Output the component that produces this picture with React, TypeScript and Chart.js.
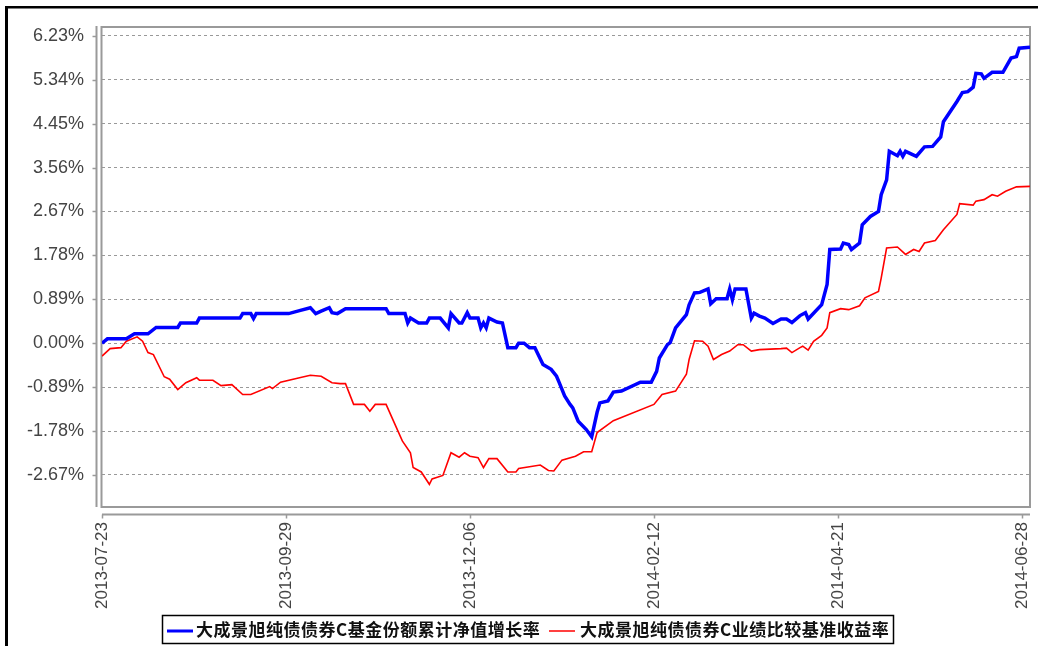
import React, { useEffect, useRef } from 'react';
import { Chart, registerables } from 'chart.js';

Chart.register(...registerables);

// x values are day offsets from 2013-07-23
const xTickDays = [0, 68, 136, 204, 272, 340];
const xTickLabels = ['2013-07-23', '2013-09-29', '2013-12-06', '2014-02-12', '2014-04-21', '2014-06-28'];
const yTickValues = [-2.67, -1.78, -0.89, 0, 0.89, 1.78, 2.67, 3.56, 4.45, 5.34, 6.23];
const xMin = 0;
const xMax = 343;
const yMin = -3.32;
const yMax = 6.43;

const seriesNames = ['大成景旭纯债债券C基金份额累计净值增长率', '大成景旭纯债债券C业绩比较基准收益率'];

const fundDays = [
  0, 2, 9, 12, 17, 20, 28, 29, 35, 36, 51, 52, 55, 56, 57, 69, 73, 77, 79, 81, 84, 85, 87, 90,
  105, 106, 112, 113, 114, 117, 120, 121, 125, 128, 129, 132, 133, 135, 136, 139, 140, 141, 142,
  143, 146, 148, 150, 153, 154, 156, 158, 160, 163, 166, 168, 169, 171, 173, 174, 176, 179, 181,
  183, 184, 187, 189, 192, 199, 203, 205, 206, 209, 210, 212, 216, 217, 219, 221, 224, 225, 227,
  231, 232, 233, 234, 238, 240, 241, 243, 245, 248, 251, 253, 255, 258, 260, 261, 266, 268, 269,
  273, 274, 276, 277, 280, 281, 284, 287, 288, 290, 291, 294, 295, 296, 297, 301, 304, 307, 310,
  311, 316, 318, 320, 322, 323, 325, 326, 329, 333, 336, 338, 339, 343,
];
const fundValues = [
  0.0, 0.09, 0.09, 0.19, 0.19, 0.32, 0.32, 0.41, 0.41, 0.51, 0.51, 0.6, 0.6, 0.5, 0.6, 0.6, 0.66,
  0.72, 0.6, 0.65, 0.72, 0.62, 0.6, 0.7,
  0.7, 0.6, 0.6, 0.41, 0.51, 0.41, 0.41, 0.51, 0.51, 0.31, 0.6, 0.41, 0.41, 0.62, 0.51, 0.51, 0.31,
  0.41, 0.31,
  0.51, 0.43, 0.41, -0.09, -0.09, 0.0, 0.0, -0.09, -0.09, -0.43, -0.53, -0.67, -0.8, -1.07, -1.24,
  -1.31, -1.58, -1.75, -1.9,
  -1.4, -1.21, -1.17, -0.99, -0.97, -0.79, -0.79, -0.57, -0.3, -0.03, 0.01, 0.31, 0.58, 0.78, 1.02,
  1.03, 1.1, 0.8, 0.9,
  0.9, 1.1, 0.88, 1.1, 1.1, 0.51, 0.61, 0.55, 0.51, 0.4, 0.49, 0.49, 0.42, 0.56, 0.62, 0.49, 0.78,
  1.19, 1.9,
  1.91, 2.03, 2.0, 1.9, 2.03, 2.4, 2.57, 2.67, 3.01, 3.31, 3.89, 3.8, 3.89, 3.79, 3.89, 3.79, 3.98,
  3.99, 4.18,
  4.49, 4.9, 5.08, 5.1, 5.19, 5.47, 5.46, 5.37, 5.49, 5.49, 5.78, 5.81, 5.98, 6.0,
];

const benchDays = [
  0, 3, 7, 9, 13, 15, 17, 19, 23, 25, 28, 31, 35, 36, 41, 44, 48, 52, 55, 62, 63, 66, 73, 77, 81,
  85, 88, 90, 93, 97, 99, 101, 105, 108, 111, 114, 115, 118, 121, 122, 126, 129, 132, 134, 136,
  139, 141, 143, 146, 150, 153, 154, 162, 165, 167, 170, 175, 178, 181, 183, 189, 204, 207, 212,
  216, 217, 219, 222, 224, 226, 229, 232, 235, 237, 240, 243, 251, 253, 255, 258, 259, 261, 263,
  266, 268, 269, 273, 276, 280, 282, 287, 288, 290, 294, 297, 300, 302, 304, 308, 311, 316, 317,
  322, 323, 326, 329, 331, 334, 338, 343,
];
const benchValues = [
  -0.26, -0.11, -0.09, 0.04, 0.13, 0.04, -0.19, -0.23, -0.68, -0.73, -0.94, -0.8, -0.7, -0.75,
  -0.75, -0.86, -0.84, -1.04, -1.04, -0.88, -0.92, -0.79, -0.7, -0.65, -0.67,
  -0.8, -0.82, -0.82, -1.24, -1.24, -1.38, -1.24, -1.24, -1.61, -1.98, -2.22, -2.52, -2.61, -2.86,
  -2.75, -2.68, -2.22, -2.31, -2.22, -2.29,
  -2.32, -2.52, -2.34, -2.34, -2.61, -2.61, -2.54, -2.47, -2.58, -2.59, -2.37, -2.29, -2.2, -2.2,
  -1.81, -1.57, -1.24, -1.04, -0.97,
  -0.63, -0.33, 0.05, 0.04, -0.06, -0.33, -0.23, -0.16, -0.03, -0.03, -0.16, -0.13, -0.11, -0.1,
  -0.19, -0.09, -0.06, -0.14, 0.04,
  0.16, 0.31, 0.62, 0.7, 0.68, 0.76, 0.92, 1.05, 1.32, 1.93, 1.95, 1.8, 1.9, 1.86, 2.03, 2.08, 2.3,
  2.61, 2.83,
  2.8, 2.88, 2.91, 3.01, 2.98, 3.08, 3.17, 3.18,
];

const seriesColors = ['#0000ff', '#ff0000'];

const decorPlugin = {
  id: 'decor',
  beforeDraw(chart: any) {
    const { ctx, width, height } = chart;
    ctx.save();
    ctx.fillStyle = '#ffffff';
    ctx.fillRect(0, 0, width, height);
    ctx.fillStyle = '#000000';
    ctx.fillRect(5, 6, width - 5, 2.5);
    ctx.fillRect(5, 6, 3, height - 6);
    ctx.restore();
  },
  beforeDatasetsDraw(chart: any) {
    const { ctx, chartArea, scales } = chart;
    const { left, top, right, bottom } = chartArea;
    ctx.save();
    ctx.strokeStyle = '#9a9a9a';
    ctx.lineWidth = 2;
    ctx.strokeRect(left - 0.5, top + 1, right - left + 0.5, bottom - top - 1);
    // y axis line + ticks
    const ax = left - 5.5;
    ctx.beginPath();
    ctx.moveTo(ax, top);
    ctx.lineTo(ax, bottom);
    ctx.stroke();
    ctx.lineWidth = 1.5;
    scales.y.ticks.forEach((t: any) => {
      const py = Math.round(scales.y.getPixelForValue(t.value)) + 0.5;
      ctx.beginPath();
      ctx.moveTo(ax - 4, py);
      ctx.lineTo(ax, py);
      ctx.stroke();
    });
    // x axis line + ticks
    const ay = bottom + 7.5;
    ctx.lineWidth = 2;
    ctx.beginPath();
    ctx.moveTo(left, ay);
    ctx.lineTo(right, ay);
    ctx.stroke();
    ctx.lineWidth = 1.5;
    scales.x.ticks.forEach((t: any) => {
      const px = Math.round(scales.x.getPixelForValue(t.value)) + 0.5;
      ctx.beginPath();
      ctx.moveTo(px, ay);
      ctx.lineTo(px, ay + 4);
      ctx.stroke();
    });
    ctx.restore();
  },
  afterDraw(chart: any) {
    const { ctx } = chart;
    ctx.save();
    // legend box
    ctx.strokeStyle = '#000000';
    ctx.lineWidth = 1.5;
    ctx.strokeRect(162.5, 615.5, 731, 28);
    ctx.font = 'bold 17px "Noto Sans CJK SC", sans-serif';
    ctx.textBaseline = 'middle';
    ctx.fillStyle = '#111111';
    try {
      (ctx as any).letterSpacing = '0.5px';
    } catch (e) {
      /* ignore */
    }
    const entries = [
      { x0: 167, x1: 193, tx: 196, w: 3 },
      { x0: 549, x1: 575, tx: 580, w: 1.5 },
    ];
    entries.forEach((e, i) => {
      ctx.strokeStyle = seriesColors[i];
      ctx.lineWidth = e.w;
      ctx.beginPath();
      ctx.moveTo(e.x0, 631);
      ctx.lineTo(e.x1, 631);
      ctx.stroke();
      ctx.fillText(seriesNames[i], e.tx, 630);
    });
    ctx.restore();
  },
};

export default function App() {
  const ref = useRef<HTMLCanvasElement>(null);
  useEffect(() => {
    const canvas = ref.current;
    if (!canvas) return;
    const chart = new Chart(canvas, {
      type: 'line',
      data: {
        datasets: [
          {
            label: seriesNames[0],
            data: fundDays.map((d, i) => ({ x: d, y: fundValues[i] })),
            borderColor: seriesColors[0],
            borderWidth: 3.5,
            pointRadius: 0,
            tension: 0,
            fill: false,
          },
          {
            label: seriesNames[1],
            data: benchDays.map((d, i) => ({ x: d, y: benchValues[i] })),
            borderColor: seriesColors[1],
            borderWidth: 1.6,
            pointRadius: 0,
            tension: 0,
            fill: false,
          },
        ],
      },
      options: {
        animation: false,
        responsive: false,
        layout: { padding: { left: 8, right: 8, top: 26, bottom: 0 } },
        plugins: { legend: { display: false }, tooltip: { enabled: false } },
        scales: {
          x: {
            type: 'linear',
            min: xMin,
            max: xMax,
            afterBuildTicks: (s: any) => {
              s.ticks = xTickDays.map((v) => ({ value: v }));
            },
            afterFit: (s: any) => {
              s.height = 139;
              s.paddingLeft = 0;
              s.paddingRight = 0;
            },
            grid: { display: false, drawTicks: false },
            border: { display: false },
            ticks: {
              autoSkip: false,
              maxRotation: 90,
              minRotation: 90,
              padding: 15,
              color: '#444444',
              font: { family: '"Liberation Sans", Arial, sans-serif', size: 17 },
              callback: (v: any) => {
                const i = xTickDays.indexOf(Number(v));
                return i >= 0 ? xTickLabels[i] : '';
              },
            },
          },
          y: {
            type: 'linear',
            min: yMin,
            max: yMax,
            afterBuildTicks: (s: any) => {
              s.ticks = yTickValues.map((v) => ({ value: v }));
            },
            afterFit: (s: any) => {
              s.width = 94;
              s.paddingTop = 0;
              s.paddingBottom = 0;
            },
            grid: { color: '#999999', lineWidth: 1, drawTicks: false },
            border: { display: false, dash: [3, 3] },
            ticks: {
              padding: 18,
              color: '#444444',
              font: { family: '"Liberation Sans", Arial, sans-serif', size: 18 },
              callback: (v: any) => Number(v).toFixed(2) + '%',
            },
          },
        },
      },
      plugins: [decorPlugin],
    } as any);
    return () => chart.destroy();
  }, []);
  return (
    <div style={{ position: 'absolute', left: 0, top: 0, width: 1038, height: 646, background: '#fff' }}>
      <canvas ref={ref} width={1038} height={646} style={{ display: 'block', width: 1038, height: 646 }} />
    </div>
  );
}
